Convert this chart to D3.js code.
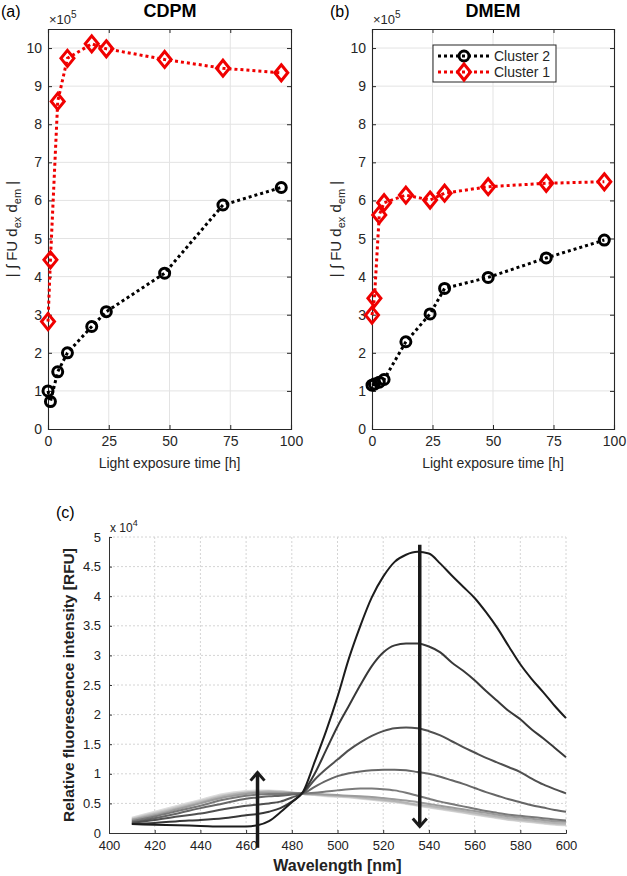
<!DOCTYPE html>
<html><head><meta charset="utf-8">
<script src="https://cdn.jsdelivr.net/npm/d3@7"></script>
<style>body{margin:0;background:#fff}svg{display:block;font-family:"Liberation Sans",Arial,sans-serif}</style>
</head><body><svg id="c" width="627" height="876"></svg>
<script>
// ---------- Data: panels (a) CDPM and (b) DMEM ----------
const timeA = [0, 1, 4, 8, 18, 24, 48, 72, 96];
const cdpmCluster1 = [2.82, 4.44, 8.6, 9.73, 10.11, 9.98, 9.7, 9.47, 9.35];
const cdpmCluster2 = [1.0, 0.72, 1.5, 2.0, 2.69, 3.08, 4.09, 5.88, 6.34];
const timeB = [0, 1, 3, 5, 14, 24, 30, 48, 72, 96];
const dmemCluster1 = [2.99, 3.43, 5.62, 5.94, 6.14, 6.01, 6.19, 6.36, 6.45, 6.49];
const dmemCluster2 = [1.15, 1.18, 1.23, 1.3, 2.29, 3.02, 3.69, 3.98, 4.49, 4.96];
const xTicksAB = [0, 25, 50, 75, 100];
const yTicksAB = [0,1,2,3,4,5,6,7,8,9,10];
const legendLabels = ["Cluster 2", "Cluster 1"];

// ---------- Data: panel (c) spectra (x 10^4 RFU) ----------
const wavelengths = [410,420,430,440,450,460,465,470,475,480,485,490,495,500,505,510,515,520,525,530,535,540,545,550,555,560,565,570,575,580,585,590,595,600];
const spec1 = [0.15,0.14,0.13,0.12,0.11,0.11,0.13,0.20,0.35,0.52,0.70,1.20,1.72,2.30,2.95,3.50,3.98,4.33,4.58,4.70,4.75,4.72,4.55,4.35,4.16,3.97,3.73,3.46,3.15,2.85,2.60,2.38,2.15,1.94];
const spec2 = [0.15,0.17,0.20,0.22,0.25,0.30,0.32,0.36,0.42,0.53,0.69,1.00,1.40,1.80,2.15,2.50,2.82,3.05,3.17,3.20,3.20,3.15,3.05,2.88,2.74,2.58,2.40,2.23,2.06,1.92,1.75,1.60,1.44,1.28];
const spec3 = [0.17,0.22,0.28,0.33,0.40,0.46,0.48,0.50,0.53,0.60,0.68,0.90,1.08,1.24,1.40,1.53,1.64,1.72,1.77,1.78,1.77,1.72,1.65,1.55,1.45,1.36,1.27,1.19,1.11,1.03,0.92,0.82,0.74,0.67];
const spec4 = [0.18,0.25,0.33,0.42,0.50,0.58,0.60,0.62,0.63,0.65,0.67,0.78,0.88,0.96,1.01,1.04,1.06,1.07,1.07,1.06,1.03,1.00,0.95,0.89,0.83,0.76,0.69,0.63,0.57,0.52,0.47,0.43,0.39,0.36];
const spec5 = [0.20,0.28,0.37,0.46,0.56,0.63,0.65,0.66,0.66,0.67,0.67,0.68,0.70,0.72,0.74,0.75,0.75,0.74,0.72,0.68,0.63,0.58,0.53,0.49,0.45,0.41,0.37,0.34,0.31,0.29,0.27,0.25,0.23,0.21];
const spec6 = [0.22,0.30,0.40,0.50,0.60,0.66,0.68,0.68,0.68,0.67,0.66,0.66,0.65,0.64,0.63,0.62,0.61,0.59,0.57,0.55,0.52,0.49,0.46,0.43,0.40,0.37,0.34,0.31,0.28,0.26,0.24,0.22,0.20,0.19];
const spec7 = [0.23,0.32,0.42,0.52,0.62,0.68,0.69,0.70,0.69,0.68,0.66,0.65,0.64,0.63,0.62,0.60,0.58,0.56,0.54,0.51,0.48,0.46,0.43,0.40,0.37,0.34,0.31,0.28,0.25,0.23,0.21,0.19,0.17,0.16];
const spec8 = [0.24,0.34,0.44,0.54,0.64,0.69,0.70,0.71,0.70,0.68,0.66,0.65,0.63,0.62,0.61,0.59,0.57,0.55,0.53,0.50,0.47,0.44,0.41,0.38,0.35,0.32,0.29,0.26,0.23,0.21,0.19,0.17,0.15,0.14];
const spec9 = [0.26,0.36,0.46,0.56,0.66,0.71,0.72,0.72,0.71,0.69,0.66,0.64,0.62,0.61,0.60,0.58,0.56,0.54,0.52,0.49,0.46,0.43,0.40,0.37,0.34,0.31,0.28,0.25,0.22,0.20,0.18,0.16,0.14,0.13];
const spectra = [spec9, spec8, spec7, spec6, spec5, spec4, spec3, spec2, spec1];
const spectraColors = ["#dcdcdc","#c8c8c8","#b4b4b4","#9c9c9c","#7a7a7a","#666666","#505050","#383838","#1c1c1c"];
const xTicksC = [400,420,440,460,480,500,520,540,560,580,600];
const yTicksC = [0,0.5,1,1.5,2,2.5,3,3.5,4,4.5,5];
const arrowUp = {x: 465, from: -0.25, to: 1.02};
const arrowDown = {x: 536, from: 4.87, to: 0.11};

const svg = d3.select("#c");
const RED = "#f00000";
const diamondPath = "M0,-8L6.5,0L0,8L-6.5,0Z";

function panelAB(o) {
  const x = d3.scaleLinear().domain([0, 100]).range([o.left, o.right]);
  const y = d3.scaleLinear().domain([0, 10.5]).range([o.bottom, o.top]);
  const g = svg.append("g");
  g.selectAll(".gx").data(xTicksAB.slice(1, -1)).enter().append("line")
    .attr("x1", d => x(d)).attr("x2", d => x(d)).attr("y1", o.top).attr("y2", o.bottom)
    .attr("stroke", "#e3e3e3").attr("stroke-width", 1);
  g.selectAll(".gy").data(yTicksAB.slice(1)).enter().append("line")
    .attr("x1", o.left).attr("x2", o.right).attr("y1", d => y(d)).attr("y2", d => y(d))
    .attr("stroke", "#e3e3e3").attr("stroke-width", 1);
  g.append("g").attr("transform", `translate(0,${o.bottom})`)
    .call(d3.axisBottom(x).tickValues(xTicksAB).tickSize(-4).tickPadding(7));
  g.append("g").attr("transform", `translate(${o.left},0)`)
    .call(d3.axisLeft(y).tickValues(yTicksAB).tickSize(-4).tickPadding(6));
  g.append("g").attr("transform", `translate(0,${o.top})`)
    .call(d3.axisTop(x).tickValues(xTicksAB).tickSize(-4).tickFormat(""));
  g.append("g").attr("transform", `translate(${o.right},0)`)
    .call(d3.axisRight(y).tickValues(yTicksAB).tickSize(-4).tickFormat(""));
  g.selectAll(".domain").attr("stroke", "#262626").attr("stroke-width", 1.1);
  g.selectAll(".tick line").attr("stroke", "#262626");
  g.selectAll(".tick text").attr("font-size", 14).attr("fill", "#262626")
    .attr("font-family", "Liberation Sans, Arial, sans-serif");
  const ex = g.append("text").attr("x", o.left + 1).attr("y", o.top - 5)
    .attr("font-size", 13).attr("fill", "#262626");
  ex.append("tspan").text("×10");
  ex.append("tspan").attr("dy", -6).attr("font-size", 10).text("5");
  g.append("text").attr("x", o.titleX).attr("y", 17).attr("text-anchor", "middle")
    .attr("font-size", 18).attr("font-weight", "bold").text(o.title);
  g.append("text").attr("x", o.labelX).attr("y", 17).attr("font-size", 16).text(o.label);
  g.append("text").attr("x", (o.left + o.right) / 2).attr("y", o.bottom + 39)
    .attr("text-anchor", "middle").attr("font-size", 14).attr("fill", "#262626")
    .text("Light exposure time [h]");
  const yl = g.append("text").attr("transform", `translate(${o.yLabelX},${(o.top + o.bottom) / 2}) rotate(-90)`)
    .attr("text-anchor", "middle").attr("font-size", 15).attr("fill", "#262626");
  yl.append("tspan").text("| ∫ FU d");
  yl.append("tspan").attr("font-size", 11).attr("dy", 4).text("ex");
  yl.append("tspan").attr("dy", -4).text(" d");
  yl.append("tspan").attr("font-size", 11).attr("dy", 4).text("em");
  yl.append("tspan").attr("dy", -4).text(" |");
  const line = d3.line().x(d => x(d[0])).y(d => y(d[1]));
  const s2 = o.t.map((t, i) => [t, o.c2[i]]);
  const s1 = o.t.map((t, i) => [t, o.c1[i]]);
  g.append("path").attr("d", line(s2)).attr("fill", "none").attr("stroke", "#000")
    .attr("stroke-width", 3).attr("stroke-dasharray", "3,3");
  g.append("path").attr("d", line(s1)).attr("fill", "none").attr("stroke", RED)
    .attr("stroke-width", 3).attr("stroke-dasharray", "3,3");
  g.selectAll(".c2").data(s2).enter().append("circle")
    .attr("cx", d => x(d[0])).attr("cy", d => y(d[1])).attr("r", 5)
    .attr("fill", "none").attr("stroke", "#000").attr("stroke-width", 3);
  g.selectAll(".c1").data(s1).enter().append("path")
    .attr("d", diamondPath).attr("transform", d => `translate(${x(d[0])},${y(d[1])})`)
    .attr("fill", "none").attr("stroke", RED).attr("stroke-width", 3);
  return {x, y, g};
}

panelAB({left: 48, right: 291, top: 29, bottom: 429, t: timeA, c1: cdpmCluster1, c2: cdpmCluster2,
  title: "CDPM", titleX: 170, label: "(a)", labelX: 1, yLabelX: 17});
const pb = panelAB({left: 372, right: 614, top: 29, bottom: 429, t: timeB, c1: dmemCluster1, c2: dmemCluster2,
  title: "DMEM", titleX: 493, label: "(b)", labelX: 330, yLabelX: 341});

{
  const lg = pb.g.append("g");
  lg.append("rect").attr("x", 433).attr("y", 45).attr("width", 123).attr("height", 37)
    .attr("fill", "#fff").attr("stroke", "#262626").attr("stroke-width", 1);
  const rows = [{y: 56, color: "#000", sym: "c"}, {y: 72, color: RED, sym: "d"}];
  rows.forEach((r, i) => {
    lg.append("line").attr("x1", 438).attr("x2", 490).attr("y1", r.y).attr("y2", r.y)
      .attr("stroke", r.color).attr("stroke-width", 3).attr("stroke-dasharray", "3,3");
    if (r.sym === "c") lg.append("circle").attr("cx", 464).attr("cy", r.y).attr("r", 5)
      .attr("fill", "none").attr("stroke", "#000").attr("stroke-width", 3);
    else lg.append("path").attr("d", diamondPath)
      .attr("transform", `translate(464,${r.y})`)
      .attr("fill", "none").attr("stroke", RED).attr("stroke-width", 3);
    lg.append("text").attr("x", 494).attr("y", r.y + 5).attr("font-size", 14).attr("fill", "#262626")
      .text(legendLabels[i]);
  });
}

{
  const L = 109, R = 566, T = 537, B = 833;
  const x = d3.scaleLinear().domain([400, 600]).range([L, R]);
  const y = d3.scaleLinear().domain([0, 5]).range([B, T]);
  const g = svg.append("g");
  g.selectAll(".gx").data(xTicksC.slice(1)).enter().append("line")
    .attr("x1", d => x(d)).attr("x2", d => x(d)).attr("y1", T).attr("y2", B)
    .attr("stroke", "#d4d4d4").attr("stroke-width", 1).attr("stroke-dasharray", "2,2");
  g.selectAll(".gy").data(yTicksC.slice(1)).enter().append("line")
    .attr("x1", L).attr("x2", R).attr("y1", d => y(d)).attr("y2", d => y(d))
    .attr("stroke", "#d4d4d4").attr("stroke-width", 1).attr("stroke-dasharray", "2,2");
  g.append("g").attr("transform", `translate(0,${B})`)
    .call(d3.axisBottom(x).tickValues(xTicksC).tickSize(-3).tickPadding(8).tickFormat(d3.format("d")));
  g.append("g").attr("transform", `translate(${L},0)`)
    .call(d3.axisLeft(y).tickValues(yTicksC).tickSize(-3).tickPadding(8).tickFormat(d => String(d)));
  g.selectAll(".domain").attr("stroke", "#333").attr("stroke-width", 1);
  g.selectAll(".tick line").attr("stroke", "#333");
  g.selectAll(".tick text").attr("font-size", 13).attr("fill", "#222")
    .attr("font-family", "Liberation Sans, Arial, sans-serif");
  const ex = g.append("text").attr("x", L + 1).attr("y", T - 5).attr("font-size", 12).attr("fill", "#222");
  ex.append("tspan").text("x 10");
  ex.append("tspan").attr("dy", -6).attr("font-size", 9).text("4");
  g.append("text").attr("x", 56).attr("y", 518).attr("font-size", 16).text("(c)");
  g.append("text").attr("x", (L + R) / 2).attr("y", 871).attr("text-anchor", "middle")
    .attr("font-size", 16).attr("font-weight", "bold").attr("fill", "#222").text("Wavelength [nm]");
  g.append("text").attr("transform", `translate(74,${(T + B) / 2}) rotate(-90)`)
    .attr("text-anchor", "middle").attr("font-size", 15.5).attr("font-weight", "bold").attr("fill", "#222")
    .text("Relative fluorescence intensity [RFU]");
  const line = d3.line().x(d => x(d[0])).y(d => y(d[1])).curve(d3.curveMonotoneX);
  spectra.forEach((s, i) => {
    g.append("path").attr("d", line(wavelengths.map((w, j) => [w, s[j]])))
      .attr("fill", "none").attr("stroke", spectraColors[i]).attr("stroke-width", 2);
  });
  [arrowUp, arrowDown].forEach(a => {
    const x0 = x(a.x), y0 = y(a.from), y1 = y(a.to);
    const dir = y1 < y0 ? 1 : -1;
    g.append("line").attr("x1", x0).attr("x2", x0).attr("y1", y0).attr("y2", y1)
      .attr("stroke", "#1a1a1a").attr("stroke-width", 3.5);
    g.append("path").attr("d", `M${x0 - 7},${y1 + dir * 8} L${x0},${y1} L${x0 + 7},${y1 + dir * 8}`)
      .attr("fill", "none").attr("stroke", "#1a1a1a").attr("stroke-width", 3);
  });
}
</script></body></html>
